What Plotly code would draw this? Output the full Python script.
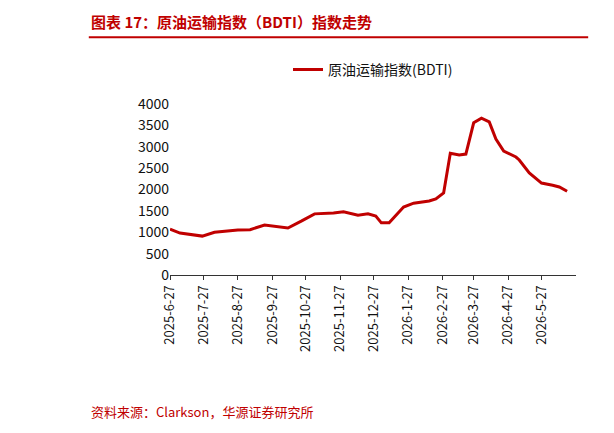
import plotly.graph_objects as go

# ------------------------------------------------------------
# Data
# ------------------------------------------------------------
dates = ["2025-06-27", "2025-07-06", "2025-07-26", "2025-08-06", "2025-08-27",
         "2025-09-07", "2025-09-20", "2025-10-11", "2025-10-23", "2025-11-04",
         "2025-11-21", "2025-11-30", "2025-12-13", "2025-12-22", "2025-12-29",
         "2026-01-03", "2026-01-10", "2026-01-23", "2026-02-01", "2026-02-15",
         "2026-02-21", "2026-02-28", "2026-03-06", "2026-03-14", "2026-03-20",
         "2026-03-27", "2026-04-03", "2026-04-10", "2026-04-16", "2026-04-23",
         "2026-05-04", "2026-05-07", "2026-05-16", "2026-05-27", "2026-06-06",
         "2026-06-12", "2026-06-19"]
bdti = [1070, 980, 910, 1000, 1050, 1060, 1170, 1100, 1260, 1430,
        1450, 1480, 1400, 1430, 1380, 1220, 1220, 1590, 1680, 1730,
        1780, 1920, 2850, 2810, 2830, 3560, 3670, 3580, 3180, 2900,
        2760, 2690, 2390, 2150, 2100, 2060, 1960]
tick_vals = ["2025-06-27", "2025-07-27", "2025-08-27", "2025-09-27", "2025-10-27",
             "2025-11-27", "2025-12-27", "2026-01-27", "2026-02-27", "2026-03-27",
             "2026-04-27", "2026-05-27"]
tick_text = ["2025-6-27", "2025-7-27", "2025-8-27", "2025-9-27", "2025-10-27",
             "2025-11-27", "2025-12-27", "2026-1-27", "2026-2-27", "2026-3-27",
             "2026-4-27", "2026-5-27"]

RED = "#c00000"
FONT = "Noto Sans CJK SC"

fig = go.Figure()
fig.add_trace(go.Scatter(x=dates, y=bdti, mode="lines", name="原油运输指数(BDTI)",
                         line=dict(color=RED, width=3)))

fig.update_layout(
    width=614, height=433,
    paper_bgcolor="white", plot_bgcolor="white",
    margin=dict(l=162, r=46, t=96, b=166),
    font=dict(family=FONT, size=13, color="#111"),
    showlegend=True,
    legend=dict(orientation="h", x=0.5, xanchor="center", y=1.2, yanchor="middle",
                font=dict(size=14)),
    xaxis=dict(range=["2025-06-27", "2026-06-27"], tickvals=tick_vals, ticktext=tick_text,
               tickangle=-90, showgrid=False, showline=True, linecolor="#333",
               ticks="outside", ticklen=4, tickcolor="#333"),
    yaxis=dict(range=[0, 4000], dtick=500, showgrid=False, showline=False,
               tickfont=dict(size=14)),
    shapes=[dict(type="line", xref="paper", yref="paper", x0=-0.2, x1=1.03,
                 y0=1.39, y1=1.39, line=dict(color=RED, width=2))],
    annotations=[
        dict(text="<b>图表 17：原油运输指数（BDTI）指数走势</b>", xref="paper", yref="paper",
             x=-0.2, y=1.48, xanchor="left", yanchor="middle", showarrow=False,
             font=dict(size=15, color=RED)),
        dict(text="资料来源：Clarkson，华源证券研究所", xref="paper", yref="paper",
             x=-0.2, y=-0.80, xanchor="left", yanchor="middle", showarrow=False,
             font=dict(size=13, color=RED)),
    ],
)

fig.write_html("out.html")
